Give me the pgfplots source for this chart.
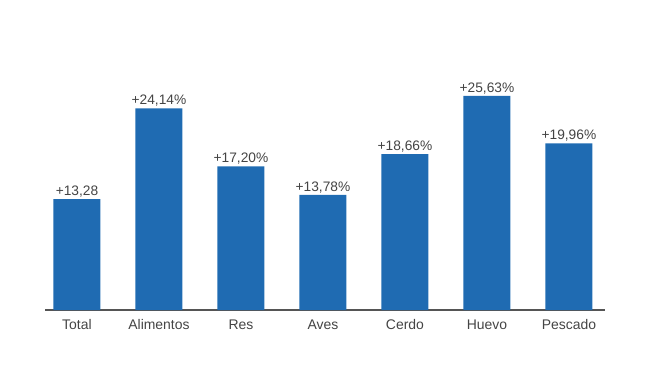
\documentclass[border=0pt]{standalone}
\usepackage{pgfplots}
\pgfplotsset{compat=1.18}
\usepackage{pgfplotstable}
\usepackage{fontspec}
\setmainfont{Liberation Sans}
\definecolor{barblue}{HTML}{1F6BB2}
\definecolor{txtgray}{HTML}{444444}
\definecolor{axgray}{HTML}{555555}
\pgfplotstableread{
x y lab
0 13.28 {+13,28}
1 24.14 {+24,14\%}
2 17.20 {+17,20\%}
3 13.78 {+13,78\%}
4 18.66 {+18,66\%}
5 25.63 {+25,63\%}
6 19.96 {+19,96\%}
}\datatable
\begin{document}
\begin{tikzpicture}[x=1bp,y=1bp]
\path[use as bounding box] (0,0) rectangle (650,366);
\begin{axis}[
  at={(45bp,56bp)}, anchor=south west,
  scale only axis, width=560bp, height=250.5bp,
  xmin=-0.39, xmax=6.44, ymin=0, ymax=30,
  axis x line*=bottom, axis y line=none,
  x axis line style={axgray, line width=1.2pt, -},
  ytick=\empty,
  xtick={0,...,6},
  xticklabels={Total,Alimentos,Res,Aves,Cerdo,Huevo,Pescado},
  major tick length=0pt,
  xticklabel style={font=\fontsize{14}{16}\selectfont, text=txtgray, yshift=-6bp},
  ybar, bar width=47bp,
  nodes near coords,
  point meta=explicit symbolic,
  every node near coord/.append style={font=\fontsize{13.8}{16}\selectfont, text=txtgray, yshift=-1.5bp},
]
\addplot[fill=barblue, draw=none] table[x=x, y=y, meta=lab] {\datatable};
\end{axis}
\end{tikzpicture}
\end{document}
